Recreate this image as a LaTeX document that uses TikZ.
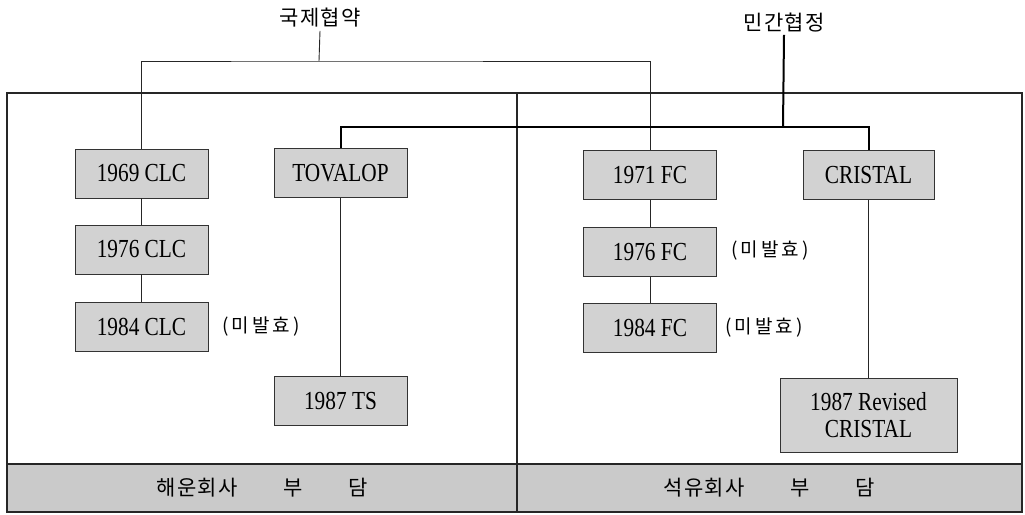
\documentclass[tikz,border=0pt]{standalone}
\usepackage{fontspec}
\setmainfont{Liberation Serif}[FakeStretch=0.82]
\newfontfamily\kr{Noto Sans CJK KR}[LetterSpace=6]
\definecolor{boxgray}{HTML}{D2D2D2}
\definecolor{bandgray}{HTML}{CACACA}
\tikzset{
  treaty/.style={draw=black!80, line width=0.9pt, fill=boxgray, minimum width=133pt, minimum height=49pt, inner sep=0pt, font=\fontsize{26}{27}\selectfont},
  thin/.style={line width=0.9pt, black!85},
  heavy/.style={line width=2pt, black},
  krlabel/.style={font=\kr\fontsize{21}{24}\selectfont, inner sep=0pt},
  note/.style={font=\kr\fontsize{19}{22}\selectfont, inner sep=0pt},
  frame/.style={line width=1.1pt, black!85}
}
\begin{document}
\begin{tikzpicture}[x=1pt,y=-1pt]
\useasboundingbox (0,0) rectangle (1025,514);
% frame and band
\fill[bandgray] (7,464) rectangle (1022,512);
\draw[frame] (7,93) rectangle (1022,512);
\draw[frame] (7,464) -- (1022,464);
\draw[frame] (517,93) -- (517,512);
\node[krlabel] (bandL) at (262,488) {해운회사\hspace{46pt}부\hspace{45pt}담};
\node[krlabel] (bandR) at (769,488) {석유회사\hspace{46pt}부\hspace{45pt}담};
% headings
\node[krlabel] (g1) at (320,18) {국제협약};
\node[krlabel] (m1) at (784,23) {민간협정};
\coordinate (gbar) at (319,61);
\coordinate (mbar) at (783,127);
% boxes
\node[treaty] (clc69) at (141.5,173.5) {1969 CLC};
\node[treaty] (clc76) at (141.5,249.5) {1976 CLC};
\node[treaty] (clc84) at (141.5,327) {1984 CLC};
\node[treaty] (tov) at (340.5,173) {TOVALOP};
\node[treaty] (ts87) at (340.5,400.5) {1987 TS};
\node[treaty] (fc71) at (650,175) {1971 FC};
\node[treaty] (fc76) at (650,252) {1976 FC};
\node[treaty] (fc84) at (650,327.5) {1984 FC};
\node[treaty, minimum width=131pt] (cris) at (868.5,175) {CRISTAL};
\node[treaty, minimum width=177pt, minimum height=74pt, align=center] (rcris) at (868.5,415) {1987 Revised\\CRISTAL};
% notes
\node[note] (n1) at (261,327) {(\,미\,발\,효\,)};
\node[note] (n2) at (770,251) {(\,미\,발\,효\,)};
\node[note] (n3) at (764,328) {(\,미\,발\,효\,)};
% connectors
\draw[thin] (g1.south) ++(0,3) -- (gbar);
\draw[thin] (clc69.north) |- (gbar) -| (fc71.north);
\draw[heavy] (m1.south) ++(0,2) -- (mbar);
\draw[heavy] (tov.north) |- (mbar) -| (cris.north);
\draw[thin] (clc69) -- (clc76);
\draw[thin] (clc76) -- (clc84);
\draw[thin, line width=1.2pt] (tov) -- (ts87);
\draw[thin] (fc71) -- (fc76);
\draw[thin] (fc76) -- (fc84);
\draw[thin, line width=1.2pt] (cris) -- (rcris);
\end{tikzpicture}
\end{document}
